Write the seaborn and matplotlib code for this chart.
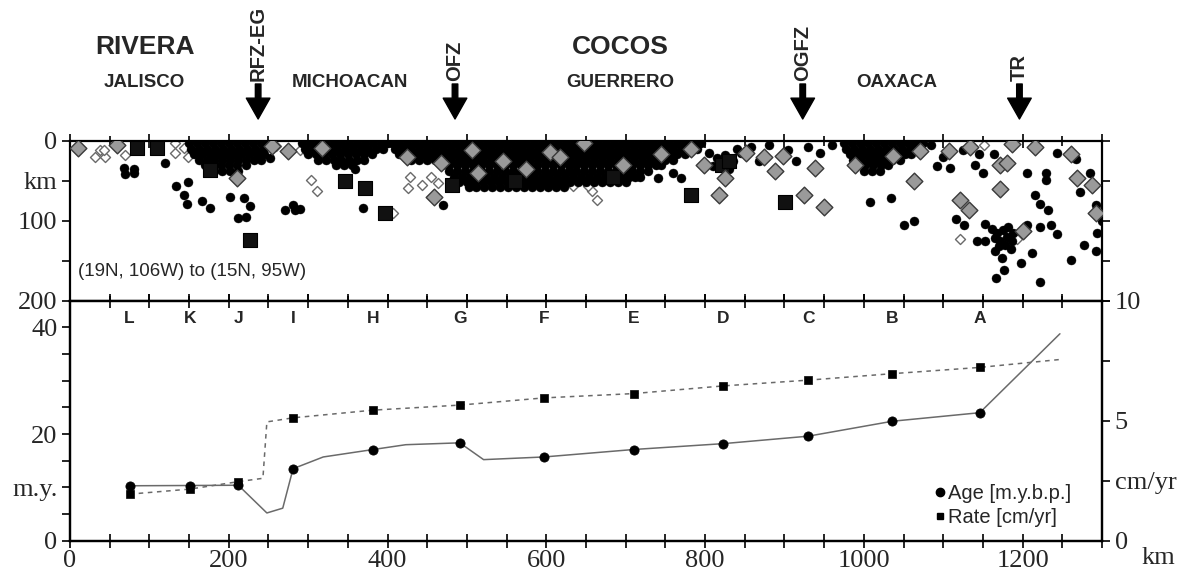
import numpy as np
import pandas as pd
import matplotlib
matplotlib.use('Agg')
import matplotlib.pyplot as plt
import matplotlib.transforms as mtransforms
from matplotlib.lines import Line2D
import seaborn as sns

# %% data: bottom panel (age / rate along the trench)
seg_labels = ['L', 'K', 'J', 'I', 'H', 'G', 'F', 'E', 'D', 'C', 'B', 'A']
seg_km = [75, 151, 212, 281, 382, 491, 597, 710, 823, 930, 1036, 1146]
age_pts = [10.3, 10.35, 10.4, 13.5, 17.1, 18.35, 15.7, 17.1, 18.2, 19.6, 22.4, 24.0]
rate_pts = [1.94, 2.15, 2.46, 5.12, 5.44, 5.65, 5.95, 6.13, 6.45, 6.69, 6.96, 7.22]

age_line_km = [75, 151, 212, 248, 268, 281, 319, 382, 423, 491, 521, 597, 710, 823, 930, 1036, 1146, 1247]
age_line_val = [10.3, 10.35, 10.4, 5.2, 6.1, 13.5, 15.7, 17.1, 18.0, 18.35, 15.2, 15.7, 17.1, 18.2, 19.6, 22.4, 24.0, 38.8]
rate_line_km = [75, 151, 212, 243, 248, 281, 382, 491, 597, 710, 823, 930, 1036, 1146, 1247]
rate_line_val = [1.94, 2.15, 2.46, 2.6, 4.95, 5.12, 5.44, 5.65, 5.95, 6.13, 6.45, 6.69, 6.96, 7.22, 7.55]

# %% data: top panel (hypocentres, x in km along section, depth in km)
# dense clusters, one list of x per depth row
jal_rows = {3: [150, 160, 170, 180, 190, 200, 210, 220, 230, 240, 248],
            10: [153, 163, 173, 183, 193, 203, 213, 223, 233, 243],
            17: [156, 166, 176, 186, 196, 206, 216, 226, 236, 244],
            24: [162, 172, 182, 192, 202, 212, 222, 232, 240],
            31: [170, 180, 190, 200, 210, 222],
            38: [182, 192, 202, 212]}
mic_rows = {3: [292, 302, 312, 322, 332, 342, 352, 362, 372, 382, 392, 400],
            10: [296, 306, 316, 326, 336, 346, 356, 366, 376, 386, 394],
            17: [300, 310, 320, 330, 340, 350, 360, 370, 380],
            24: [312, 322, 332, 342, 352, 362, 370],
            31: [335, 345, 355]}
gue_rows = {3: [405, 415, 425, 435, 445, 455, 465, 475, 485, 495, 505, 515, 525, 535, 545, 555, 565, 575, 585, 595,
                605, 615, 625, 635, 645, 655, 665, 675, 685, 695, 705, 715, 725, 735, 745, 755, 765, 775, 785, 795],
            10: [410, 420, 430, 440, 450, 460, 470, 480, 490, 500, 510, 520, 530, 540, 550, 560, 570, 580, 590, 600,
                 610, 620, 630, 640, 650, 660, 670, 680, 690, 700, 710, 720, 730, 740, 750, 760, 770, 780, 790],
            17: [415, 425, 435, 445, 455, 465, 475, 485, 495, 505, 515, 525, 535, 545, 555, 565, 575, 585, 595, 605,
                 615, 625, 635, 645, 655, 665, 675, 685, 695, 705, 715, 725, 735, 745, 755, 765, 775],
            24: [430, 440, 450, 460, 470, 480, 490, 500, 510, 520, 530, 540, 550, 560, 570, 580, 590, 600, 610, 620,
                 630, 640, 650, 660, 670, 680, 690, 700, 710, 720, 730, 740, 750, 760],
            31: [468, 478, 488, 498, 508, 518, 528, 538, 548, 558, 568, 578, 588, 598, 608, 618, 628, 638, 648, 658,
                 668, 678, 688, 698, 708, 718, 728, 738, 745],
            38: [478, 488, 498, 508, 518, 528, 538, 548, 558, 568, 578, 588, 598, 608, 618, 628, 638, 648, 658, 668,
                 678, 688, 698, 708, 718, 728],
            45: [484, 494, 504, 514, 524, 534, 544, 554, 564, 574, 584, 594, 604, 614, 624, 634, 644, 654, 664, 674,
                 684, 694, 704, 712, 718],
            52: [490, 500, 510, 520, 530, 540, 550, 560, 570, 580, 590, 600, 610, 620, 630, 640, 650, 660, 670, 680,
                 690, 700],
            58: [502, 512, 522, 532, 542, 552, 562, 572, 582, 592, 602, 612, 622]}
oax_rows = {3: [975, 985, 995, 1005, 1015, 1025, 1035, 1045, 1055, 1065, 1075],
            10: [978, 988, 998, 1008, 1018, 1028, 1038, 1048, 1058, 1068],
            17: [982, 992, 1002, 1012, 1022, 1032, 1042, 1052, 1060],
            24: [986, 996, 1006, 1016, 1026, 1036, 1045],
            31: [992, 1002, 1012, 1022, 1030],
            38: [1000, 1010, 1020]}

# scattered small events
sc_x = [68, 80, 69, 80, 120, 134, 149, 144, 147, 166, 176, 201, 219, 227, 212, 222, 252,
        359, 271, 281, 290, 283, 369, 470, 741, 770, 760,
        805, 815, 825, 835, 845, 810, 830, 840, 858, 868, 880, 905, 915, 930, 945, 960,
        1008, 1034, 1051, 1063, 1085, 1092, 1100, 1109, 1125, 1145, 1164, 1140, 1150,
        1116, 1126, 1152, 1142, 1152, 1162, 1168, 1175, 1182, 1188, 1165, 1172, 1180, 1187, 1170, 1178, 1185, 1165,
        1205, 1222, 1236, 1243, 1167, 1176, 1174, 1198, 1212, 1222, 1261, 1277, 1292, 1294, 1243, 1267, 1272,
        1205, 1229, 1229, 1215, 1222, 1232, 1292, 1285, 1300]
sc_z = [34, 35, 42, 41, 28, 57, 52, 68, 79, 75, 84, 70, 72, 82, 97, 95, 22,
        35, 87, 80, 85, 87, 84, 80, 47, 47, 40,
        15, 22, 18, 25, 15, 32, 35, 10, 8, 25, 5, 12, 25, 8, 15, 5,
        77, 72, 106, 100, 5, 32, 21, 34, 12, 17, 17, 30, 40,
        98, 106, 104, 125, 125, 110, 115, 112, 108, 115, 122, 125, 120, 125, 132, 130, 135, 138,
        106, 108, 106, 117, 172, 162, 147, 153, 140, 177, 149, 130, 138, 115, 15, 23, 64,
        40, 40, 49, 68, 79, 87, 81, 40, 100]

open_x = [31, 44, 38, 43, 69, 132, 143, 132, 149, 158, 163, 260, 290, 300, 304, 311, 407, 428, 426, 443, 455,
          464, 600, 624, 633, 643, 657, 652, 664, 1151, 1121, 1193, 1010]
open_z = [20, 20, 12, 12, 18, 3, 9, 16, 20, 5, 12, 7, 12, 16, 49, 63, 91, 45, 59, 55, 45,
          53, 24, 53, 57, 49, 63, 57, 74, 5, 123, 123, 19]

gray_x = [10, 59, 210, 254, 274, 317, 424, 467, 459, 507, 514, 545, 575, 605, 617, 647, 696, 744, 782, 799, 825,
          818, 852, 874, 898, 888, 938, 924, 950, 989, 1037, 1071, 1063, 1107, 1134, 1186, 1215, 1261, 1172, 1180,
          1268, 1287, 1292, 1172, 1121, 1133, 1200]
gray_z = [9, 6, 47, 7, 13, 9, 21, 28, 70, 12, 41, 25, 35, 14, 20, 3, 30, 17, 11, 30, 47,
          68, 15, 21, 19, 38, 34, 68, 83, 30, 19, 13, 51, 13, 8, 4, 8, 17, 30, 28,
          47, 55, 91, 60, 74, 87, 113]

sq_x = [84, 109, 176, 227, 346, 372, 397, 481, 560, 684, 782, 821, 830, 901]
sq_z = [9, 9, 37, 124, 50, 59, 91, 55, 50, 45, 68, 30, 25, 77]

# top annotations
plates = [('RIVERA', 94), ('COCOS', 693)]
regions = [('JALISCO', 94), ('MICHOACAN', 353), ('GUERRERO', 693), ('OAXACA', 1042)]
zones = [('RFZ-EG', 237), ('OFZ', 485), ('OGFZ', 923), ('TR', 1196)]


def rows_to_points(rows):
    xs, zs = [], []
    for z, row in rows.items():
        xs += row
        zs += [z] * len(row)
    return xs, zs


dense_x, dense_z = [], []
for rows in (jal_rows, mic_rows, gue_rows, oax_rows):
    xs, zs = rows_to_points(rows)
    dense_x += xs
    dense_z += zs
small_df = pd.DataFrame({'km': dense_x + sc_x, 'depth': dense_z + sc_z})

# %% plot
sns.set_theme(style='white')
plt.rcParams['font.family'] = ['Liberation Serif', 'DejaVu Serif']
SANS = ['Liberation Sans', 'DejaVu Sans']
W, H = 1181, 585

fig = plt.figure(figsize=(W / 100, H / 100), dpi=100)
ax_top = fig.add_axes([70 / W, 1 - 300.7 / H, 1032 / W, 160 / H])
ax_bot = fig.add_axes([70 / W, 1 - 540.7 / H, 1032 / W, 240 / H])
ax_rate = ax_bot.twinx()

# top panel
sns.scatterplot(x=open_x, y=open_z, ax=ax_top, marker='D', s=26, color='white',
                edgecolor='#6a6a6a', linewidth=1.0, zorder=2)
sns.scatterplot(data=small_df, x='km', y='depth', ax=ax_top, marker='o', s=42,
                color='black', edgecolor='black', linewidth=0.3, zorder=3)
sns.scatterplot(x=sq_x, y=sq_z, ax=ax_top, marker='s', s=90, color='#111111',
                edgecolor='black', linewidth=0.8, zorder=4)
sns.scatterplot(x=gray_x, y=gray_z, ax=ax_top, marker='D', s=72, color='#9a9a9a',
                edgecolor='#3a3a3a', linewidth=1.0, zorder=5)
ax_top.set_xlim(0, 1300)
ax_top.set_ylim(200, 0)
ax_top.set_xlabel('')
ax_top.set_ylabel('')
ax_top.set_xticks(np.arange(0, 1301, 100))
ax_top.set_xticks(np.arange(50, 1300, 100), minor=True)
ax_top.tick_params(axis='x', which='both', top=True, bottom=True, labelbottom=False,
                   direction='inout', width=1.2, color='black')
ax_top.tick_params(axis='x', which='major', length=10)
ax_top.tick_params(axis='x', which='minor', length=7)
ax_top.set_yticks([0, 50, 100, 150, 200])
ax_top.set_yticklabels(['0', 'km', '100', '', '200'])
ax_top.tick_params(axis='y', left=True, right=True, direction='out', length=6, width=1.2,
                   labelsize=19, pad=3, color='black')
ax_top.text(10, 163, '(19N, 106W) to (15N, 95W)', family=SANS, fontsize=13.5,
            ha='left', va='center')

# bottom panel
sns.lineplot(x=age_line_km, y=age_line_val, ax=ax_bot, color='#6a6a6a', linewidth=1.1,
             sort=False, estimator=None)
sns.scatterplot(x=seg_km, y=age_pts, ax=ax_bot, marker='o', s=44, color='black',
                edgecolor='black', zorder=4)
sns.lineplot(x=rate_line_km, y=rate_line_val, ax=ax_rate, color='#6a6a6a', linewidth=1.1,
             sort=False, estimator=None, dashes=False, linestyle=(0, (3, 3)))
sns.scatterplot(x=seg_km, y=rate_pts, ax=ax_rate, marker='s', s=36, color='black',
                edgecolor='black', zorder=4)

ax_bot.set_xlim(0, 1300)
ax_bot.set_ylim(0, 45)
ax_rate.set_ylim(0, 10)
for a in (ax_bot, ax_rate):
    a.set_xlabel('')
    a.set_ylabel('')
ax_bot.set_yticks(np.arange(0, 41, 5))
ax_bot.set_yticklabels(['0', '', 'm.y.', '', '20', '', '', '', '40'])
ax_bot.tick_params(axis='y', direction='out', length=6, width=1.2, labelsize=19, pad=3,
                   color='black', left=True)
ax_rate.set_yticks([0, 2.5, 5, 7.5, 10])
ax_rate.set_yticklabels(['0', 'cm/yr', '5', '', '10'])
ax_rate.tick_params(axis='y', direction='out', length=6, width=1.2, labelsize=19, pad=3,
                    color='black', right=True)
ax_bot.set_xticks(np.arange(0, 1301, 50))
ax_bot.set_xticklabels([str(v) if v % 200 == 0 and v <= 1200 else '' for v in range(0, 1301, 50)])
ax_bot.tick_params(axis='x', which='major', direction='inout', length=10, width=1.2,
                   labelsize=19, pad=2, color='black', bottom=True, top=True)

for a in (ax_top, ax_bot, ax_rate):
    for sp in a.spines.values():
        sp.set_linewidth(1.6)
        sp.set_color('black')

for lab, km in zip(seg_labels, seg_km):
    ax_bot.text(km, 41.7, lab, family=SANS, fontweight='bold', fontsize=12.5,
                ha='center', va='center')

handles = [Line2D([], [], marker='o', color='black', linestyle='none', markersize=6),
           Line2D([], [], marker='s', color='black', linestyle='none', markersize=5)]
ax_bot.legend(handles, ['Age [m.y.b.p.]', 'Rate [cm/yr]'], loc='upper left',
              bbox_to_anchor=(925 / W, 1 - 474 / H), bbox_transform=fig.transFigure,
              frameon=False, handlelength=0.5, handletextpad=0.15, labelspacing=0.25,
              borderpad=0, prop={'family': SANS, 'size': 14.5})

fig.text(1158 / W, 1 - 558 / H, 'km', fontsize=19, ha='center', va='center')

# labels above the section
trans = mtransforms.blended_transform_factory(ax_top.transData, fig.transFigure)
for name, km in plates:
    ax_top.text(km, 1 - 47 / H, name, transform=trans, family=SANS, fontweight='bold',
                fontsize=19, ha='center', va='center', clip_on=False)
for name, km in regions:
    ax_top.text(km, 1 - 83 / H, name, transform=trans, family=SANS, fontweight='bold',
                fontsize=13.5, ha='center', va='center', clip_on=False)
for name, km in zones:
    ax_top.annotate('', xy=(km, 1 - 119 / H), xycoords=trans, xytext=(km, 1 - 84 / H),
                    textcoords=trans, annotation_clip=False,
                    arrowprops=dict(facecolor='black', edgecolor='black', width=4,
                                    headwidth=17, headlength=15, shrink=0))
    ax_top.text(km, 1 - 81 / H, name, transform=trans, family=SANS, fontweight='bold',
                fontsize=14.5, rotation=90, ha='center', va='bottom', clip_on=False)

fig.savefig('out.png', dpi=100, facecolor='white')
